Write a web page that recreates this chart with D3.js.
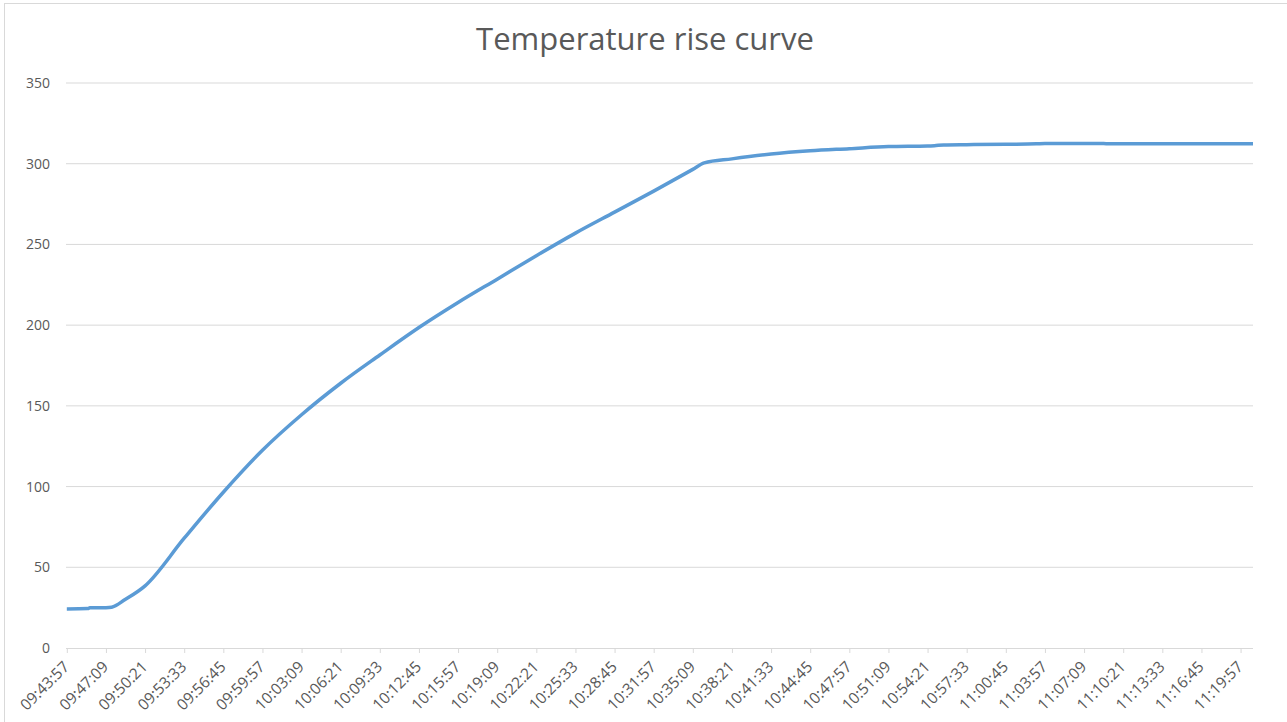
<!DOCTYPE html>
<html>
<head>
<meta charset="utf-8">
<script src="https://cdn.jsdelivr.net/npm/d3@7"></script>
<style>
  body { margin: 0; background: #fff; }
  svg { display: block; font-family: "Open Sans", "Liberation Sans", sans-serif; }
  .tick text { fill: #595959; }
</style>
</head>
<body>
<svg id="chart" width="1287" height="722"></svg>
<script>
// readings taken off the curve (time, temperature)
var times = ["09:43:57", "09:45:40", "09:45:50", "09:47:09", "09:47:37", "09:48:43", "09:50:21",
  "09:53:33", "09:56:45", "09:59:57", "10:03:09", "10:06:21", "10:09:33", "10:12:45",
  "10:15:57", "10:19:09", "10:22:21", "10:25:33", "10:28:45", "10:31:57", "10:35:09",
  "10:36:05", "10:38:21", "10:41:33", "10:44:45", "10:47:57", "10:51:09", "10:54:21",
  "10:54:55", "10:55:40", "10:57:33", "11:00:45", "11:03:15", "11:03:57", "11:07:09",
  "11:10:21", "11:13:33", "11:16:45", "11:19:57", "11:20:58"];
var temps = [24.2, 24.4, 24.9, 25.0, 25.3, 30, 38.5,
  68, 96.5, 122.5, 144.5, 164, 181.5, 198.5,
  214, 228.5, 243, 257, 270, 283, 296.5,
  300.5, 303, 306, 308, 309.3, 310.6, 311,
  311.2, 311.6, 311.8, 312, 312.3, 312.5, 312.5,
  312.4, 312.4, 312.4, 312.4, 312.4];
var tickLabels = ["09:43:57", "09:47:09", "09:50:21", "09:53:33", "09:56:45", "09:59:57",
  "10:03:09", "10:06:21", "10:09:33", "10:12:45", "10:15:57", "10:19:09", "10:22:21",
  "10:25:33", "10:28:45", "10:31:57", "10:35:09", "10:38:21", "10:41:33", "10:44:45",
  "10:47:57", "10:51:09", "10:54:21", "10:57:33", "11:00:45", "11:03:57", "11:07:09",
  "11:10:21", "11:13:33", "11:16:45", "11:19:57"];
var yTicks = [0, 50, 100, 150, 200, 250, 300, 350];

function secs(s) {
  var p = s.split(":").map(Number);
  return p[0] * 3600 + p[1] * 60 + p[2];
}

var svg = d3.select("#chart"),
    margin = { top: 83, right: 34, bottom: 74, left: 66 },
    width = +svg.attr("width"),
    height = +svg.attr("height");

// chart frame (only top/left edges fall inside the picture)
svg.append("rect")
  .attr("x", 4.5).attr("y", 3.5)
  .attr("width", 1300).attr("height", 740)
  .attr("fill", "none").attr("stroke", "#d9d9d9");

var data = times.map(function(t, i) { return { t: secs(t), v: temps[i] }; });

var x = d3.scaleLinear()
  .domain([secs(times[0]) - 4, secs(times[times.length - 1])])
  .range([margin.left, width - margin.right]);

var y = d3.scaleLinear()
  .domain([0, 350])
  .range([height - margin.bottom, margin.top]);

// gridlines
svg.append("g")
  .selectAll("line")
  .data(yTicks.slice(1))
  .enter().append("line")
  .attr("x1", margin.left).attr("x2", width - margin.right)
  .attr("y1", function(d) { return y(d); })
  .attr("y2", function(d) { return y(d); })
  .attr("stroke", "#d9d9d9").attr("stroke-width", 1);

var yAxis = svg.append("g")
  .attr("class", "y axis")
  .attr("transform", "translate(" + margin.left + ",0)")
  .call(d3.axisLeft(y).tickValues(yTicks).tickSize(0).tickPadding(16));
yAxis.attr("font-size", 14).attr("font-family", null);
yAxis.select(".domain").remove();

var xAxis = svg.append("g")
  .attr("class", "x axis")
  .attr("transform", "translate(0," + (height - margin.bottom) + ")")
  .call(d3.axisBottom(x)
    .tickValues(tickLabels.map(secs))
    .tickSize(5)
    .tickFormat(function(d, i) { return tickLabels[i]; }));
xAxis.attr("font-size", 15.5).attr("font-family", null);
xAxis.select(".domain")
  .attr("d", "M" + margin.left + ",0.5H" + (width - margin.right))
  .attr("stroke", "#d9d9d9");
xAxis.selectAll(".tick line").attr("stroke", "#d9d9d9");
xAxis.selectAll("text")
  .attr("text-anchor", "end")
  .attr("dy", "0.35em")
  .attr("transform", "translate(-1,16) rotate(-45)")
  .attr("x", 0).attr("y", 0);

var line = d3.line()
  .x(function(d) { return x(d.t); })
  .y(function(d) { return y(d.v); })
  .curve(d3.curveMonotoneX);

svg.append("path")
  .datum(data)
  .attr("fill", "none")
  .attr("stroke", "#5b9bd5")
  .attr("stroke-width", 3.5)
  .attr("stroke-linejoin", "round")
  .attr("d", line);

svg.append("text")
  .attr("x", 645).attr("y", 50)
  .attr("text-anchor", "middle")
  .style("font-size", "31px")
  .style("fill", "#595959")
  .text("Temperature rise curve");
</script>
</body>
</html>
